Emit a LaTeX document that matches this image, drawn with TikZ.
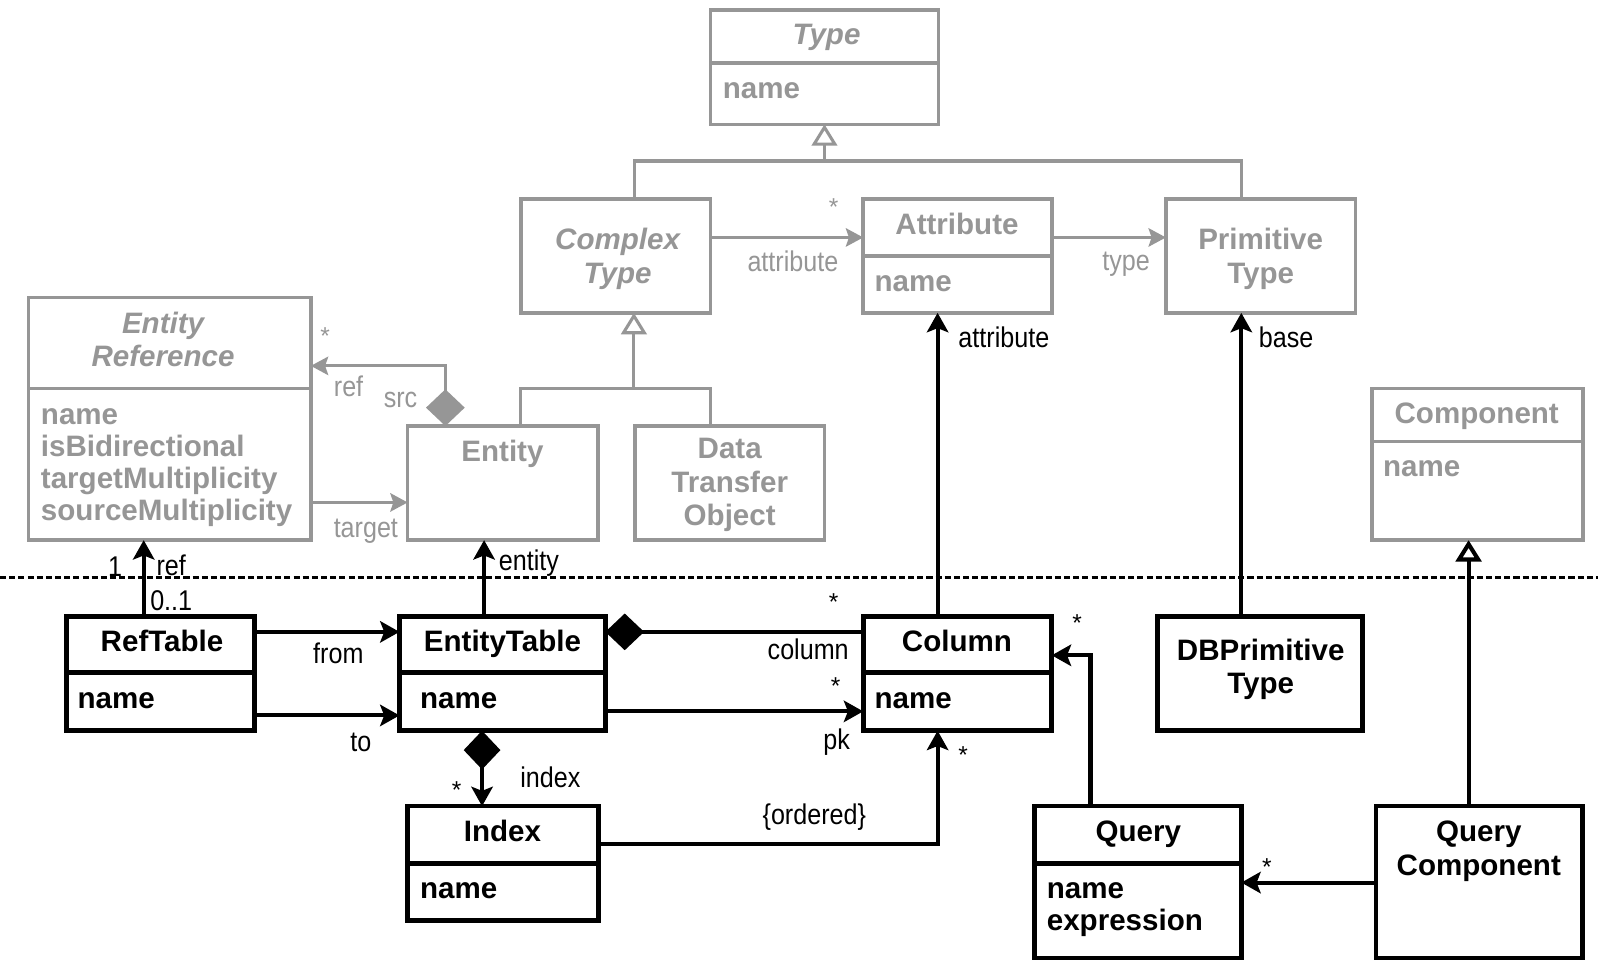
\documentclass[tikz,border=0pt]{standalone}
\usepackage{fontspec}
\setmainfont{Liberation Sans}
\newfontfamily\labfont[FakeStretch=0.88]{Liberation Sans}
\usetikzlibrary{arrows.meta}
\definecolor{cgray}{RGB}{150,150,150}
\tikzset{
  gbox/.style={draw=cgray, line width=3.5pt, inner sep=0pt, outer sep=0pt},
  bbox/.style={draw=black, line width=4.5pt, inner sep=0pt, outer sep=0pt},
  gdiv/.style={draw=cgray, line width=3.5pt},
  bdiv/.style={draw=black, line width=4.5pt},
  tit/.style={font=\fontsize{29}{33}\selectfont\bfseries, anchor=base, inner sep=0pt},
  ittit/.style={font=\fontsize{29}{33}\selectfont\bfseries\itshape, anchor=base, inner sep=0pt},
  attrtext/.style={font=\fontsize{29}{33}\selectfont\bfseries, anchor=base west, inner sep=0pt},
  lab/.style={font=\labfont\fontsize{28}{30}\selectfont, anchor=base, inner sep=0pt},
  star/.style={font=\fontsize{24}{24}\selectfont, inner sep=0pt},
  gline/.style={draw=cgray, line width=3pt},
  bline/.style={draw=black, line width=4pt},
  gtip/.tip={Stealth[length=17pt,width=18pt,inset=3pt]},
  btip/.tip={Stealth[length=19pt,width=21pt,inset=4pt]},
  gentip/.tip={Triangle[open,length=21pt,width=25pt,fill=white]},
  garr/.style={gline, -gtip},
  barr/.style={bline, -btip},
  ggen/.style={gline, -gentip},
  bgen/.style={bline, -gentip},
}
\begin{document}
\begin{tikzpicture}[x=1pt,y=-1pt]
\useasboundingbox (0,0) rectangle (1568,953);
\fill[white] (0,0) rectangle (1568,953);

% ---------- gray boxes ----------
\node[gbox, minimum width=224pt, minimum height=112pt] (type) at (809,66) {};
\draw[gdiv] (type.west |- 0,62) -- (type.east |- 0,62);
\node[ittit, text=cgray] (typeT) at (811,44) {Type};
\node[attrtext, text=cgray] (typeN) at (709,97) {name};

\node[gbox, minimum width=186pt, minimum height=112pt] (ctype) at (604,251) {};
\node[ittit, text=cgray] (ctypeA) at (606,245) {Complex};
\node[ittit, text=cgray] (ctypeB) at (606,278) {Type};

\node[gbox, minimum width=185pt, minimum height=112pt] (attr) at (939.5,251) {};
\draw[gdiv] (attr.west |- 0,251) -- (attr.east |- 0,251);
\node[tit, text=cgray] (attrT) at (939,230) {Attribute};
\node[attrtext, text=cgray] (attrN) at (858,286) {name};

\node[gbox, minimum width=186pt, minimum height=112pt] (ptype) at (1237,251) {};
\node[tit, text=cgray] (ptypeA) at (1237,245) {Primitive};
\node[tit, text=cgray] (ptypeB) at (1237,278) {Type};

\node[gbox, minimum width=277pt, minimum height=238pt] (eref) at (166.5,411) {};
\draw[gdiv] (eref.west |- 0,381) -- (eref.east |- 0,381);
\node[ittit, text=cgray] (erefA) at (160,327) {Entity};
\node[ittit, text=cgray] (erefB) at (160,360) {Reference};
\node[attrtext, text=cgray] (erefN1) at (40,416.5) {name};
\node[attrtext, text=cgray] (erefN2) at (40,448) {isBidirectional};
\node[attrtext, text=cgray] (erefN3) at (40,479.5) {targetMultiplicity};
\node[attrtext, text=cgray] (erefN4) at (40,511) {sourceMultiplicity};

\node[gbox, minimum width=187pt, minimum height=112pt] (entity) at (493.5,474) {};
\node[tit, text=cgray] (entityT) at (493,453) {Entity};

\node[gbox, minimum width=186pt, minimum height=112pt] (dto) at (716,474) {};
\node[tit, text=cgray] (dtoA) at (716,450) {Data};
\node[tit, text=cgray] (dtoB) at (716,483) {Transfer};
\node[tit, text=cgray] (dtoC) at (716,516) {Object};

\node[gbox, minimum width=207pt, minimum height=149pt] (comp) at (1449.5,455.5) {};
\draw[gdiv] (comp.west |- 0,433) -- (comp.east |- 0,433);
\node[tit, text=cgray] (compT) at (1449,416) {Component};
\node[attrtext, text=cgray] (compN) at (1357,468) {name};

% ---------- black boxes ----------
\node[bbox, minimum width=185pt, minimum height=112pt] (rtab) at (157.5,661) {};
\draw[bdiv] (rtab.west |- 0,660) -- (rtab.east |- 0,660);
\node[tit] (rtabT) at (159,639) {RefTable};
\node[attrtext] (rtabN) at (76,695) {name};

\node[bbox, minimum width=202pt, minimum height=112pt] (etab) at (493,661) {};
\draw[bdiv] (etab.west |- 0,660) -- (etab.east |- 0,660);
\node[tit] (etabT) at (493,639) {EntityTable};
\node[attrtext] (etabN) at (412,695) {name};

\node[bbox, minimum width=185pt, minimum height=112pt] (col) at (939.5,661) {};
\draw[bdiv] (col.west |- 0,660) -- (col.east |- 0,660);
\node[tit] (colT) at (939,639) {Column};
\node[attrtext] (colN) at (858,695) {name};

\node[bbox, minimum width=201pt, minimum height=112pt] (dbp) at (1236.5,661) {};
\node[tit] (dbpA) at (1237,648) {DBPrimitive};
\node[tit] (dbpB) at (1237,680) {Type};

\node[bbox, minimum width=187pt, minimum height=112pt] (idx) at (493.5,847) {};
\draw[bdiv] (idx.west |- 0,847) -- (idx.east |- 0,847);
\node[tit] (idxT) at (493,826) {Index};
\node[attrtext] (idxN) at (412,882) {name};

\node[bbox, minimum width=203pt, minimum height=149pt] (qry) at (1116.5,865.5) {};
\draw[bdiv] (qry.west |- 0,847) -- (qry.east |- 0,847);
\node[tit] (qryT) at (1117,826) {Query};
\node[attrtext] (qryN1) at (1027,882) {name};
\node[attrtext] (qryN2) at (1027,913) {expression};

\node[bbox, minimum width=203pt, minimum height=149pt] (qcomp) at (1451.5,865.5) {};
\node[tit] (qcompA) at (1451,826) {Query};
\node[tit] (qcompB) at (1451,859) {Component};

% ---------- separator ----------
\draw[line width=3pt, dash pattern=on 6pt off 3pt] (0,567) -- (1568,567);

% ---------- gray connectors ----------
\coordinate (hubA) at (809,158);
\draw[gline] (ctype.north -| 623,0) |- (hubA) -| (ptype.north -| 1218,0);
\draw[ggen] (hubA) -- (type.south);

\coordinate (hubB) at (622,381);
\draw[gline] (entity.north -| 511,0) |- (hubB) -| (dto.north -| 697,0);
\draw[ggen] (hubB) -- (ctype.south -| hubB);

\draw[garr] (ctype.east |- 0,233) -- (attr.west |- 0,233);
\draw[garr] (attr.east |- 0,233) -- (ptype.west |- 0,233);
\draw[garr] (eref.east |- 0,493) -- (entity.west |- 0,493);
\draw[gline, {Diamond[length=36pt,width=38pt,fill=cgray]}-gtip]
  (entity.north -| 437,0) |- (eref.east |- 0,359);

% ---------- black connectors ----------
\draw[barr] (rtab.north -| 141,0) -- (eref.south -| 141,0);
\draw[barr] (rtab.east |- 0,620) -- (etab.west |- 0,620);
\draw[barr] (rtab.east |- 0,702) -- (etab.west |- 0,702);
\draw[barr] (etab.north -| 475,0) -- (entity.south -| 475,0);
\draw[bline, {Diamond[length=38pt,width=36pt]}-] (etab.east |- 0,620) -- (col.west |- 0,620);
\draw[barr] (etab.east |- 0,698) -- (col.west |- 0,698);
\draw[barr] (col.north -| 920,0) -- (attr.south -| 920,0);
\draw[barr] (dbp.north -| 1218,0) -- (ptype.south -| 1218,0);
\draw[bline, {Diamond[length=38pt,width=36pt]}-btip]
  (etab.south -| 473,0) -- (idx.north -| 473,0);
\draw[barr] (idx.east |- 0,828) -| (col.south -| 920,0);
\draw[barr] (qry.north -| 1070,0) |- (col.east |- 0,643);
\draw[barr] (qcomp.west |- 0,866) -- (qry.east |- 0,866);
\draw[bgen] (qcomp.north -| 1441,0) -- (comp.south -| 1441,0);

% ---------- gray labels ----------
\node[star, text=cgray] (s1) at (818,203) {*};
\node[lab, text=cgray] (l1) at (778,266) {attribute};
\node[lab, text=cgray] (l2) at (1105,265) {type};
\node[star, text=cgray] (s2) at (319,330) {*};
\node[lab, text=cgray] (l3) at (342,389) {ref};
\node[lab, text=cgray] (l4) at (393,400) {src};
\node[lab, text=cgray] (l5) at (359,527) {target};

% ---------- black labels ----------
\node[lab] (l6) at (113,566) {1};
\node[lab] (l7) at (168,565) {ref};
\node[lab] (l8) at (168,599) {0..1};
\node[lab] (l9) at (519,560) {entity};
\node[lab] (l10) at (332,651) {from};
\node[lab] (l11) at (354,737) {to};
\node[star] (s3) at (818,591) {*};
\node[lab] (l12) at (793,647) {column};
\node[star] (s4) at (820,673) {*};
\node[lab] (l13) at (821,735) {pk};
\node[lab] (l14) at (985,341) {attribute};
\node[lab] (l15) at (1262,341) {base};
\node[star] (s5) at (448,775) {*};
\node[lab] (l16) at (540,773) {index};
\node[lab] (l17) at (799,809) {\{ordered\}};
\node[star] (s6) at (945,741) {*};
\node[star] (s7) at (1057,611) {*};
\node[star] (s8) at (1243,851) {*};
\end{tikzpicture}
\end{document}
